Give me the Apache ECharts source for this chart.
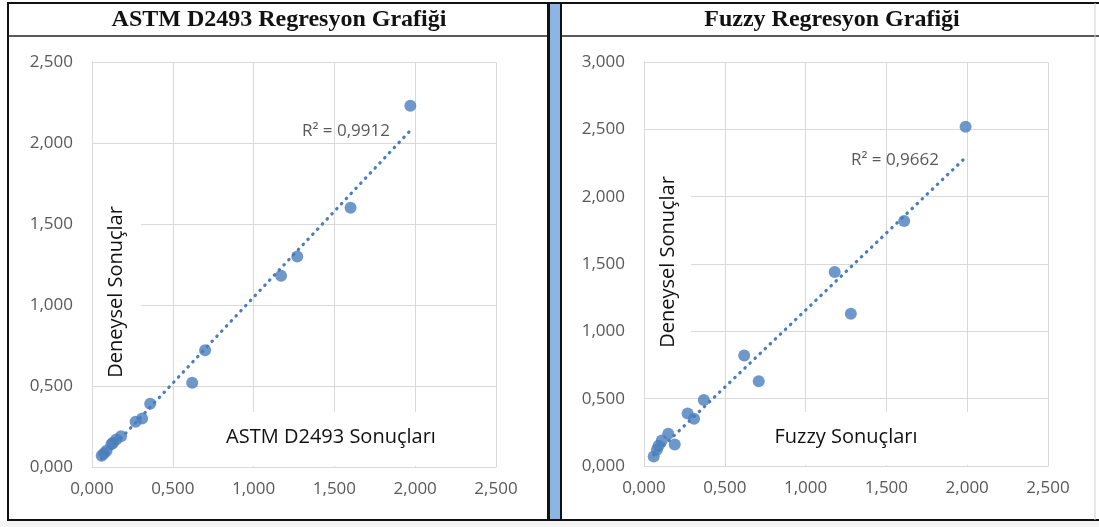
<!DOCTYPE html>
<html>
<head>
<meta charset="utf-8">
<script src="https://cdn.jsdelivr.net/npm/echarts@6/dist/echarts.min.js"></script>
<style>
html,body{margin:0;padding:0;background:#fff;}
#chart{width:1099px;height:527px;}
</style>
</head>
<body>
<div id="chart"></div>
<script>
// ---- data ----
const astmX = [1.97, 1.60, 1.27, 1.17, 0.70, 0.62, 0.36, 0.31, 0.27, 0.18, 0.15, 0.13, 0.12, 0.09, 0.075, 0.06];
const astmY = [2.23, 1.60, 1.30, 1.18, 0.72, 0.52, 0.39, 0.30, 0.28, 0.19, 0.17, 0.15, 0.14, 0.10, 0.085, 0.07];
const fuzzyX = [1.99, 1.61, 1.18, 1.28, 0.62, 0.71, 0.37, 0.27, 0.31, 0.15, 0.19, 0.11, 0.09, 0.08, 0.06];
const fuzzyY = [2.52, 1.82, 1.44, 1.13, 0.82, 0.63, 0.49, 0.39, 0.35, 0.24, 0.16, 0.19, 0.15, 0.12, 0.07];
const titles = ['ASTM D2493 Regresyon Grafiği', 'Fuzzy Regresyon Grafiği'];
const xTitles = ['ASTM D2493 Sonuçları', 'Fuzzy Sonuçları'];
const yTitle = 'Deneysel Sonuçlar';
const r2Labels = ['R² = 0,9912', 'R² = 0,9662'];
const xMax = [2.5, 2.5];
const yMax = [2.5, 3.0];

function zip(xs, ys){ return xs.map((x,i)=>[x, ys[i]]); }
function trend(xs, ys){
  const n = xs.length;
  const mx = xs.reduce((a,b)=>a+b,0)/n, my = ys.reduce((a,b)=>a+b,0)/n;
  let sxy=0,sxx=0;
  for(let i=0;i<n;i++){ sxy+=(xs[i]-mx)*(ys[i]-my); sxx+=(xs[i]-mx)*(xs[i]-mx); }
  const b = sxy/sxx, a = my - b*mx;
  const x0 = Math.min(...xs), x1 = Math.max(...xs);
  return [[x0, a+b*x0],[x1, a+b*x1]];
}
const fmt = v => v.toFixed(3).replace('.', ',');
const tickFont = '"Open Sans", sans-serif';
const gridColor = '#d9d9d9';
const blue = '#4a7ebb';

function xAxis(i){
  return {gridIndex:i, type:'value', min:0, max:xMax[i], interval:0.5,
    axisLine:{show:true, lineStyle:{color:gridColor, width:1}}, axisTick:{show:false},
    splitLine:{show:true, lineStyle:{color:gridColor, width:1}},
    axisLabel:{formatter:fmt, color:'#595959', fontFamily:tickFont, fontSize:17, margin:14}};
}
function yAxis(i){
  return {gridIndex:i, type:'value', min:0, max:yMax[i], interval:0.5,
    axisLine:{show:true, lineStyle:{color:gridColor, width:1}}, axisTick:{show:false},
    splitLine:{show:true, lineStyle:{color:gridColor, width:1}},
    axisLabel:{formatter:fmt, color:'#595959', fontFamily:tickFont, fontSize:17, margin:19}};
}
function scatter(i, xs, ys){
  return {type:'scatter', xAxisIndex:i, yAxisIndex:i, data:zip(xs,ys), symbolSize:12,
    itemStyle:{color:blue}, z:3};
}
function tline(i, xs, ys){
  return {type:'line', xAxisIndex:i, yAxisIndex:i, data:trend(xs,ys), symbol:'none',
    lineStyle:{color:blue, width:3.2, type:[0.5,6.5], cap:'round'}, z:2, silent:true};
}

const chart = echarts.init(document.getElementById('chart'), null, {renderer:'canvas'});
const option = {
  animation:false,
  backgroundColor:'#fff',
  grid:[
    {left:92, top:62, width:404, height:405},
    {left:644, top:62, width:404, height:404}
  ],
  xAxis:[xAxis(0), xAxis(1)],
  yAxis:[yAxis(0), yAxis(1)],
  series:[
    tline(0, astmX, astmY), scatter(0, astmX, astmY),
    tline(1, fuzzyX, fuzzyY), scatter(1, fuzzyX, fuzzyY)
  ],
  graphic:[
    {type:'rect', shape:{x:0,y:521,width:1099,height:6}, style:{fill:'#f4f4f4'}, z:0},
    {type:'rect', shape:{x:8,y:3,width:540,height:517}, style:{fill:'none', stroke:'#111', lineWidth:2}, z:10},
    {type:'line', shape:{x1:8,y1:36,x2:548,y2:36}, style:{stroke:'#222', lineWidth:1.5}, z:10},
    {type:'rect', shape:{x:549,y:3,width:12,height:517}, style:{fill:'#8db4e2', stroke:'#111', lineWidth:2}, z:10},
    {type:'line', shape:{x1:561,y1:3,x2:1099,y2:3}, style:{stroke:'#111', lineWidth:2}, z:10},
    {type:'line', shape:{x1:561,y1:36,x2:1099,y2:36}, style:{stroke:'#222', lineWidth:1.5}, z:10},
    {type:'line', shape:{x1:561,y1:520,x2:1099,y2:520}, style:{stroke:'#111', lineWidth:2}, z:10},
    {type:'line', shape:{x1:1095,y1:3,x2:1095,y2:520}, style:{stroke:'#d0d0d0', lineWidth:1}, z:10},
    {type:'text', x:279, y:20, style:{text:titles[0], font:'bold 24px "Liberation Serif", serif', fill:'#111', align:'center', verticalAlign:'middle'}, z:10},
    {type:'text', x:832, y:20, style:{text:titles[1], font:'bold 24px "Liberation Serif", serif', fill:'#111', align:'center', verticalAlign:'middle'}, z:10},
    {type:'rect', shape:{x:93,y:145,width:48,height:240}, style:{fill:'#fff'}, z:1},
    {type:'rect', shape:{x:205,y:412,width:290,height:54}, style:{fill:'#fff'}, z:1},
    {type:'rect', shape:{x:645,y:150,width:46,height:235}, style:{fill:'#fff'}, z:1},
    {type:'rect', shape:{x:755,y:412,width:292,height:53}, style:{fill:'#fff'}, z:1},
    {type:'text', x:116, y:292, rotation:Math.PI/2, style:{text:yTitle, font:'20px "Open Sans", sans-serif', fill:'#111', align:'center', verticalAlign:'middle'}, z:5},
    {type:'text', x:331, y:437, style:{text:xTitles[0], font:'20px "Open Sans", sans-serif', fill:'#111', align:'center', verticalAlign:'middle'}, z:5},
    {type:'text', x:668, y:262, rotation:Math.PI/2, style:{text:yTitle, font:'20px "Open Sans", sans-serif', fill:'#111', align:'center', verticalAlign:'middle'}, z:5},
    {type:'text', x:846, y:437, style:{text:xTitles[1], font:'20px "Open Sans", sans-serif', fill:'#111', align:'center', verticalAlign:'middle'}, z:5},
    {type:'text', x:346, y:131, style:{text:r2Labels[0], font:'17px "Open Sans", sans-serif', fill:'#595959', align:'center', verticalAlign:'middle'}, z:5},
    {type:'text', x:895, y:160, style:{text:r2Labels[1], font:'17px "Open Sans", sans-serif', fill:'#595959', align:'center', verticalAlign:'middle'}, z:5}
  ]
};
chart.setOption(option);
</script>
</body>
</html>
